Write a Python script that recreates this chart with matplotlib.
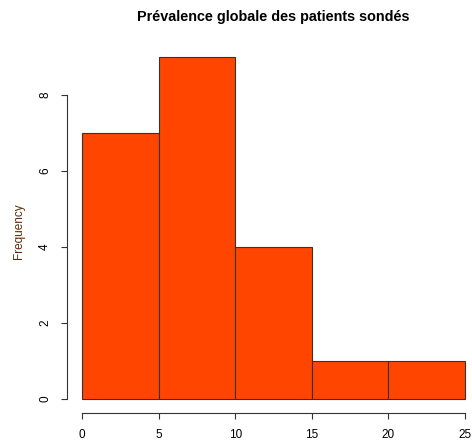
import numpy as np
import matplotlib.pyplot as plt

plt.rcParams['font.family'] = ['Liberation Sans', 'DejaVu Sans']

## histogram bins and counts
bin_edges = [0, 5, 10, 15, 20, 25]
counts = [7, 9, 4, 1, 1]
y_ticks = [0, 2, 4, 6, 8]
x_ticks = [0, 5, 10, 15, 20, 25]

W, H = 472, 443
fig = plt.figure(figsize=(W/100, H/100), dpi=100)
# axes placed in pixel coords: left 67, right 470, top 50, bottom 413
ax = fig.add_axes([67/W, 1 - 413/H, (470-67)/W, (413-50)/H])

widths = np.diff(bin_edges)
ax.bar(bin_edges[:-1], counts, width=widths, align='edge',
       color='#FF4500', edgecolor='#333333', linewidth=0.8)

px = 383/25.0
ax.set_xlim(-15/px, 25 + 5/px)
ax.set_ylim(-14/38.0, 9 + 7/38.0)

for s in ['top', 'right']:
    ax.spines[s].set_visible(False)
ax.spines['left'].set_bounds(0, 8)
ax.spines['bottom'].set_bounds(0, 25)
for s in ['left', 'bottom']:
    ax.spines[s].set_color('#333333')
    ax.spines[s].set_linewidth(0.8)

ax.set_xticks(x_ticks)
ax.set_yticks(y_ticks)
ax.tick_params(direction='out', length=4.5, width=0.8, color='#333333',
               labelsize=8.5, pad=7)
plt.setp(ax.get_yticklabels(), rotation=90, va='center')

ax.set_ylabel('Frequency', fontsize=8.5, color='#5a2a0a', labelpad=10)
fig.text(273/W, 1 - 17/H, 'Prévalence globale des patients sondés',
         ha='center', va='center', fontsize=10.4, fontweight='bold')

fig.savefig('out.png', dpi=100)
